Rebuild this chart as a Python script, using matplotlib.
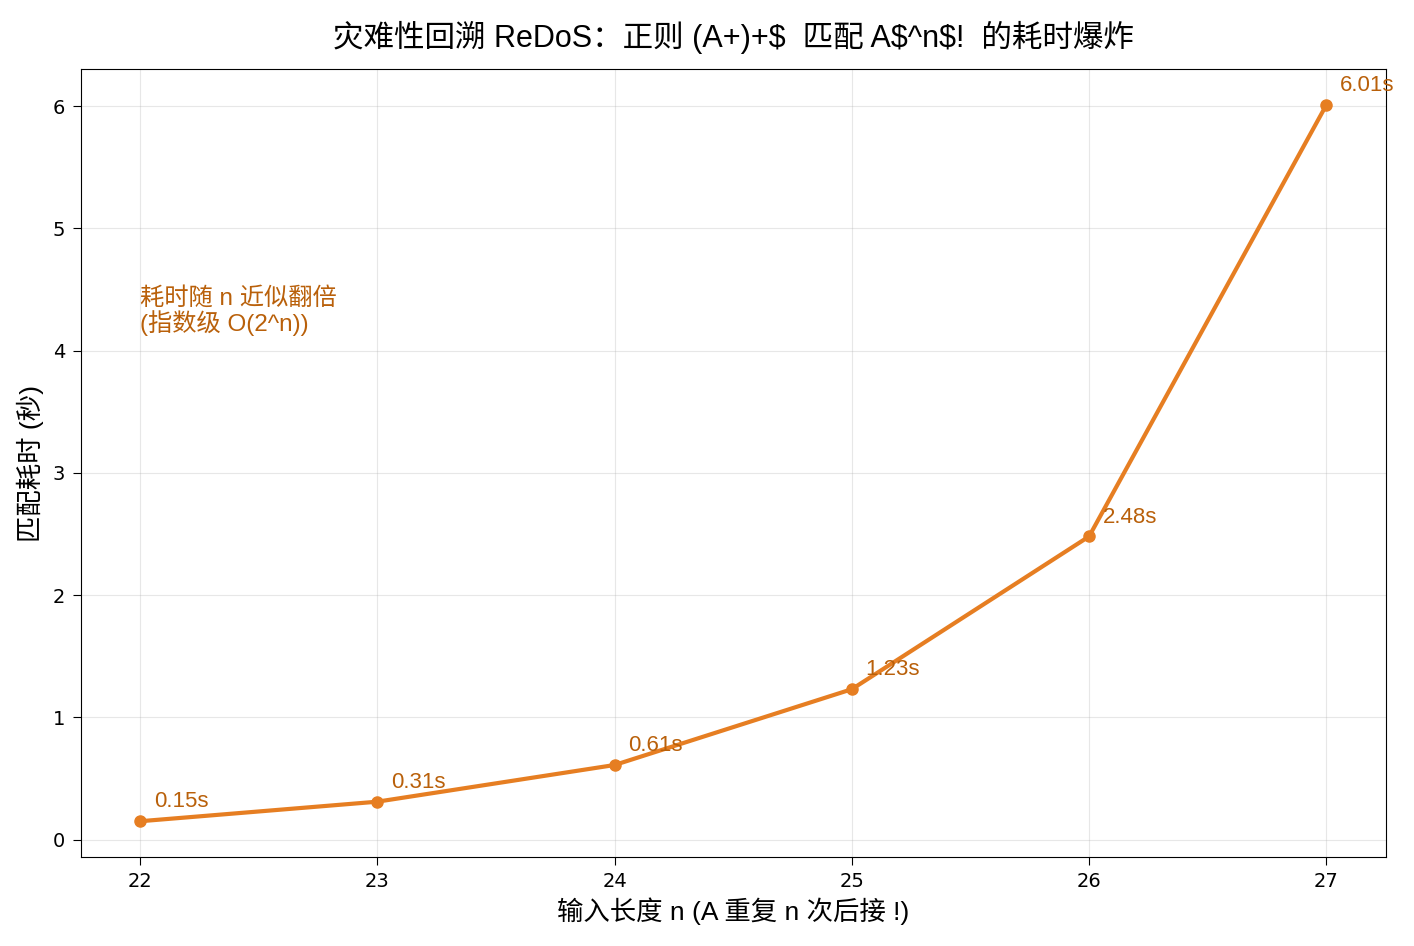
import matplotlib
matplotlib.use("Agg")
import matplotlib.pyplot as plt

plt.rcParams['font.family'] = ['Liberation Sans', 'Noto Sans CJK SC']

n_vals = [22, 23, 24, 25, 26, 27]
times = [0.15, 0.31, 0.61, 1.23, 2.48, 6.01]
labels = ["0.15s", "0.31s", "0.61s", "1.23s", "2.48s", "6.01s"]

line_color = "#e67e22"
text_color = "#b9600a"

fig, ax = plt.subplots(figsize=(14.14, 9.46), dpi=100)
ax.plot(n_vals, times, color=line_color, linewidth=3, marker='o', markersize=8)

for x, y, s in zip(n_vals, times, labels):
    ax.annotate(s, (x, y), xytext=(10, 10), textcoords='offset points',
                color=text_color, fontsize=16)

ax.text(22, 4.32, "耗时随 n 近似翻倍\n(指数级 O(2^n))", color=text_color,
        fontsize=17.5, va='center', ha='left', linespacing=1.0)

ax.set_xticks(n_vals)
ax.tick_params(labelsize=14, length=6, pad=5)
for lab in ax.get_xticklabels() + ax.get_yticklabels():
    lab.set_family('DejaVu Sans')
ax.grid(True, alpha=0.3)
ax.set_xlabel("输入长度 n (A 重复 n 次后接 !)", fontsize=19, labelpad=4)
ax.set_ylabel("匹配耗时 (秒)", fontsize=19, labelpad=6)
ax.set_title("灾难性回溯 ReDoS：正则 (A+)+$  匹配 A$^n$!  的耗时爆炸", fontsize=22, pad=16)

fig.subplots_adjust(left=0.057, right=0.98, top=0.927, bottom=0.094)
fig.savefig("out.png", dpi=100)
